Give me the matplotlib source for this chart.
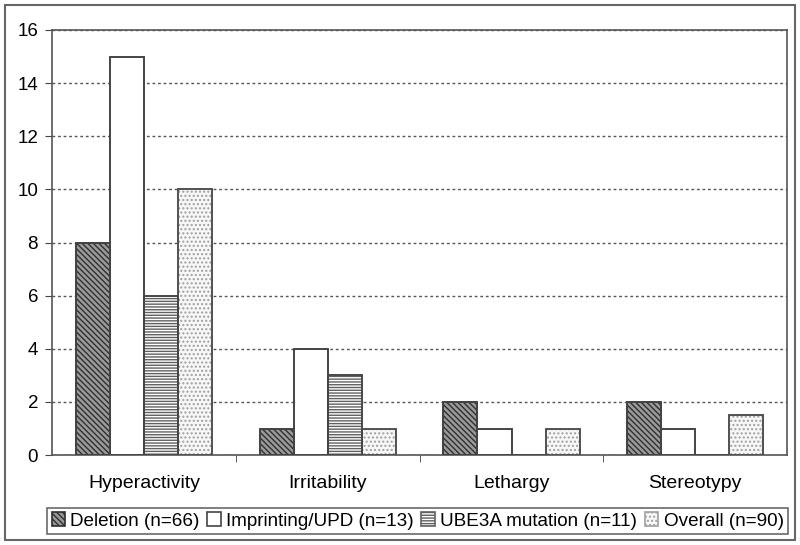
import matplotlib
matplotlib.use("Agg")
import matplotlib.pyplot as plt
import numpy as np
from matplotlib.patches import Rectangle

plt.rcParams["font.family"] = ["Liberation Sans", "DejaVu Sans"]
plt.rcParams["hatch.linewidth"] = 1.0

categories = ["Hyperactivity", "Irritability", "Lethargy", "Stereotypy"]
series_names = ["Deletion (n=66)", "Imprinting/UPD (n=13)",
                "UBE3A mutation (n=11)", "Overall (n=90)"]
deletion = [8, 1, 2, 2]
imprinting = [15, 4, 1, 1]
ube3a = [6, 3, 0, 0]
overall = [10, 1, 1, 1.5]
y_ticks = [0, 2, 4, 6, 8, 10, 12, 14, 16]

# face, hatch, hatch colour
styles = [
    ("#9a9a9a", "\\" * 6, "#303030"),
    ("white", "", "#444444"),
    ("white", "-" * 6, "#606060"),
    ("#f7f7f7", "....", "#a0a0a0"),
]

fig = plt.figure(figsize=(8, 5.45), dpi=100)
ax = fig.add_axes([0.065, 0.165, 0.919, 0.78])

x = np.arange(len(categories))
w = 0.185
offsets = [-1.5 * w, -0.5 * w, 0.5 * w, 1.5 * w]
handles = []
for vals, off, (fc, hatch, ec), name in zip(
        [deletion, imprinting, ube3a, overall], offsets, styles, series_names):
    bars = ax.bar(x + off, vals, w, color=fc, hatch=hatch, edgecolor=ec,
                  linewidth=1.2, zorder=3, label=name)
    # outline on top in darker gray
    ax.bar(x + off, vals, w, fill=False, edgecolor="#444444",
           linewidth=1.2, zorder=4)
    handles.append(bars)

ax.set_xlim(-0.5, 3.5)
ax.set_ylim(0, 16)
ax.set_yticks(y_ticks)
ax.set_xticks(x)
ax.set_xticklabels(categories, fontsize=14)
ax.set_xticks([0.5, 1.5, 2.5], minor=True)
ax.tick_params(axis="x", which="major", length=0, pad=14)
ax.tick_params(axis="x", which="minor", length=5, direction="out",
               color="#444444")
ax.tick_params(axis="y", labelsize=13.5, length=5, direction="out",
               color="#444444", pad=5)

ax.yaxis.grid(True, linestyle=(0, (2, 2)), color="#555555", linewidth=1,
              zorder=0)
ax.set_axisbelow(True)
for s in ax.spines.values():
    s.set_color("#555555")
    s.set_linewidth(1.2)

leg = fig.legend(handles=handles, labels=series_names, loc="center",
                 bbox_to_anchor=(0.522, 0.044), ncol=4, fontsize=13.6,
                 frameon=True, fancybox=False, edgecolor="#444444",
                 handlelength=0.7, handleheight=0.7, handletextpad=0.3,
                 columnspacing=0.4, borderpad=0.25, borderaxespad=0)
leg.get_frame().set_linewidth(1.2)

fig.patches.append(Rectangle((5 / 800, 5 / 545), 790 / 800, 535 / 545,
                             transform=fig.transFigure, fill=False,
                             edgecolor="#666666", linewidth=1.5))

fig.savefig("out.png", dpi=100, facecolor="white")
